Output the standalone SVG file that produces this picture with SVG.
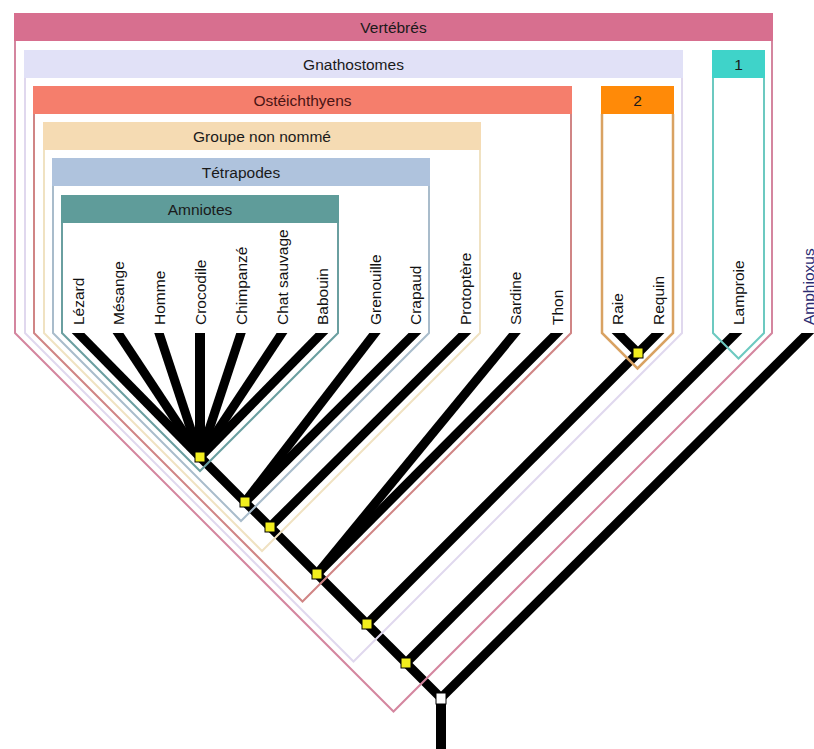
<svg xmlns="http://www.w3.org/2000/svg" width="814" height="749" viewBox="0 0 814 749">
<style>
.hdr{stroke:none}
.out{fill:none;stroke-width:2;stroke-linejoin:miter}
.ht{font-family:"Liberation Sans",Arial,sans-serif;font-size:15.5px;fill:#1a1a1a;text-anchor:middle}
.lt{font-family:"Liberation Sans",Arial,sans-serif;font-size:15.5px;fill:#111}
.br{stroke:#000;stroke-width:9;fill:none;stroke-linecap:butt}
.nd{fill:#f2ee1e;stroke:#000;stroke-width:1}
</style>
<defs>
<clipPath id="clipTop"><rect x="0" y="333" width="814" height="416"/></clipPath>
</defs>
<rect x="0" y="0" width="814" height="749" fill="#fff"/>

<g id="connectors" clip-path="url(#clipTop)">
  <line class="br" x1="200" y1="457" x2="68.2" y2="323"/>
  <line class="br" x1="200" y1="457" x2="111.4" y2="323"/>
  <line class="br" x1="200" y1="457" x2="155.7" y2="323"/>
  <line class="br" x1="200" y1="457" x2="200" y2="323" style="stroke-width:10"/>
  <line class="br" x1="200" y1="457" x2="244.3" y2="323"/>
  <line class="br" x1="200" y1="457" x2="288.6" y2="323"/>
  <line class="br" x1="200" y1="457" x2="331.8" y2="323"/>
  <line class="br" x1="245" y1="502" x2="382.7" y2="323"/>
  <line class="br" x1="245" y1="502" x2="425" y2="323"/>
  <line class="br" x1="270" y1="527" x2="475" y2="323"/>
  <line class="br" x1="317" y1="574" x2="523.2" y2="323"/>
  <line class="br" x1="317" y1="574" x2="567" y2="323"/>
  <line class="br" x1="367" y1="624" x2="638" y2="353"/>
  <line class="br" x1="638" y1="353" x2="608" y2="323"/>
  <line class="br" x1="638" y1="353" x2="668" y2="323"/>
  <line class="br" x1="406" y1="663" x2="746" y2="323"/>
  <line class="br" x1="441" y1="698" x2="818" y2="323"/>
  <line class="br" x1="200" y1="457" x2="441" y2="698"/>
  <line class="br" x1="441" y1="698" x2="441" y2="749" style="stroke-width:10"/>
</g>

<g id="vertebres">
  <path class="out" stroke="#d4869f" d="M15,41 V333 L393.5,711.5 L772,333 V41"/>
  <rect class="hdr" x="14" y="13" width="759" height="28" fill="#d76f8f"/>
  <text class="ht" x="393.5" y="33">Vertébrés</text>
</g>
<g id="gnathostomes">
  <path class="out" stroke="#e0d8ee" d="M25,78 V333 L353.5,661.5 L682,333 V78"/>
  <rect class="hdr" x="24" y="50" width="659" height="28" fill="#e1e1f7"/>
  <text class="ht" x="353.5" y="70">Gnathostomes</text>
</g>
<g id="clade1">
  <path class="out" stroke="#6cc9c0" d="M713,78 V333 L738.5,358.5 L764,333 V78"/>
  <rect class="hdr" x="712" y="50" width="53" height="28" fill="#3fd3c9"/>
  <text class="ht" x="738.5" y="70">1</text>
</g>
<g id="osteichthyens">
  <path class="out" stroke="#d08585" d="M34,114 V333 L302.5,601.5 L571,333 V114"/>
  <rect class="hdr" x="33" y="86" width="539" height="28" fill="#f57e6c"/>
  <text class="ht" x="302.5" y="106" style="fill:#4a1414">Ostéichthyens</text>
</g>
<g id="clade2">
  <path class="out" stroke="#d9a262" d="M602,114 V333 L637.5,368.5 L673,333 V114" style="stroke-width:2.5"/>
  <rect class="hdr" x="601" y="86" width="73" height="28" fill="#ff8a08"/>
  <text class="ht" x="637.5" y="106">2</text>
</g>
<g id="groupe-non-nomme">
  <path class="out" stroke="#f0e2c2" d="M44,150 V333 L262,551 L480,333 V150"/>
  <rect class="hdr" x="43" y="122" width="438" height="28" fill="#f5dbb3"/>
  <text class="ht" x="262" y="142">Groupe non nommé</text>
</g>
<g id="tetrapodes">
  <path class="out" stroke="#a9bccb" d="M53,186 V333 L241,521 L429,333 V186"/>
  <rect class="hdr" x="52" y="158" width="378" height="28" fill="#afc3dd"/>
  <text class="ht" x="241" y="178">Tétrapodes</text>
</g>
<g id="amniotes">
  <path class="out" stroke="#6a9fa0" d="M62,223 V333 L200,471 L338,333 V223"/>
  <rect class="hdr" x="61" y="195" width="278" height="28" fill="#5f9c9a"/>
  <text class="ht" x="200" y="215">Amniotes</text>
</g>

<g id="node-amniotes"><rect class="nd" x="195" y="452" width="10" height="10"/></g>
<g id="node-tetrapodes"><rect class="nd" x="240" y="497" width="10" height="10"/></g>
<g id="node-groupe"><rect class="nd" x="265" y="522" width="10" height="10"/></g>
<g id="node-osteichthyens"><rect class="nd" x="312" y="569" width="10" height="10"/></g>
<g id="node-gnathostomes"><rect class="nd" x="362" y="619" width="10" height="10"/></g>
<g id="node-vertebres"><rect class="nd" x="401" y="658" width="10" height="10"/></g>
<g id="node-2"><rect class="nd" x="633" y="348" width="10" height="10"/></g>
<g id="node-root"><rect class="nd" x="436" y="693" width="10" height="11" style="fill:#fff"/></g>

<g id="leaf-lezard"><text class="lt" transform="translate(84,325) rotate(-90)">Lézard</text></g>
<g id="leaf-mesange"><text class="lt" transform="translate(124,325) rotate(-90)">Mésange</text></g>
<g id="leaf-homme"><text class="lt" transform="translate(165,325) rotate(-90)">Homme</text></g>
<g id="leaf-crocodile"><text class="lt" transform="translate(206,325) rotate(-90)">Crocodile</text></g>
<g id="leaf-chimpanze"><text class="lt" transform="translate(247,325) rotate(-90)">Chimpanzé</text></g>
<g id="leaf-chat"><text class="lt" transform="translate(288,325) rotate(-90)">Chat sauvage</text></g>
<g id="leaf-babouin"><text class="lt" transform="translate(328,325) rotate(-90)">Babouin</text></g>
<g id="leaf-grenouille"><text class="lt" transform="translate(381,325) rotate(-90)">Grenouille</text></g>
<g id="leaf-crapaud"><text class="lt" transform="translate(421,325) rotate(-90)">Crapaud</text></g>
<g id="leaf-protoptere"><text class="lt" transform="translate(471,325) rotate(-90)">Protoptère</text></g>
<g id="leaf-sardine"><text class="lt" transform="translate(521,325) rotate(-90)">Sardine</text></g>
<g id="leaf-thon"><text class="lt" transform="translate(563,325) rotate(-90)">Thon</text></g>
<g id="leaf-raie"><text class="lt" transform="translate(623,325) rotate(-90)">Raie</text></g>
<g id="leaf-requin"><text class="lt" transform="translate(664,325) rotate(-90)">Requin</text></g>
<g id="leaf-lamproie"><text class="lt" transform="translate(744,325) rotate(-90)">Lamproie</text></g>
<g id="leaf-amphioxus"><text class="lt" transform="translate(814,325) rotate(-90)" style="fill:#2a2a70">Amphioxus</text></g>
</svg>
